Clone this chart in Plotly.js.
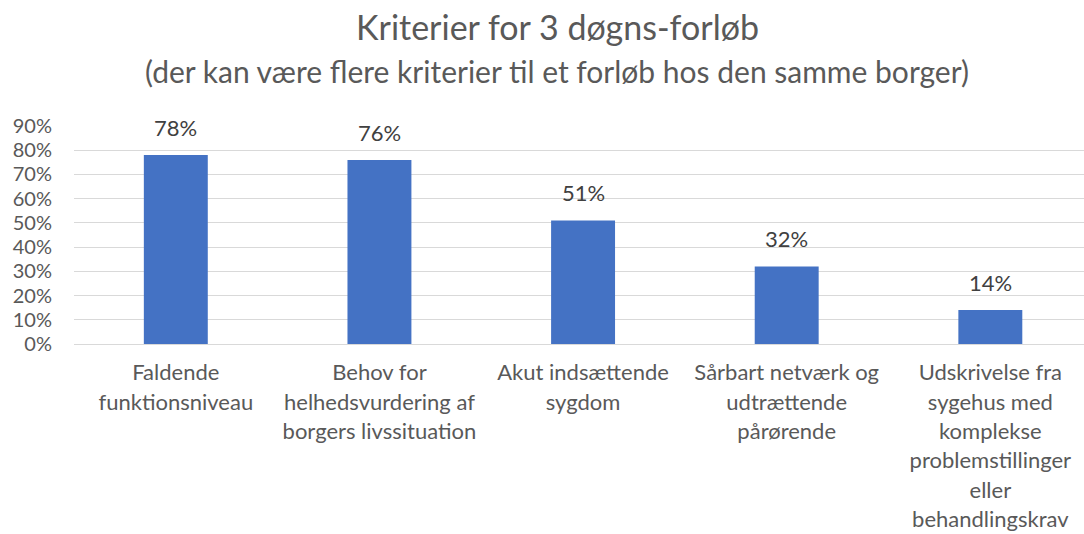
<!DOCTYPE html>
<html><head><meta charset="utf-8">
<script src="https://cdn.plot.ly/plotly-3.0.1.min.js"></script>
<style>body{margin:0;background:#fff}#c{width:1084px;height:534px}</style>
</head><body><div id="c"></div>
<script>
const categoryLines = [
  ["Faldende", "funktionsniveau"],
  ["Behov for", "helhedsvurdering af", "borgers livssituation"],
  ["Akut indsættende", "sygdom"],
  ["Sårbart netværk og", "udtrættende", "pårørende"],
  ["Udskrivelse fra", "sygehus med", "komplekse", "problemstillinger", "eller", "behandlingskrav"]
];
const values = [0.78, 0.76, 0.51, 0.32, 0.14];
const labels = ["78%", "76%", "51%", "32%", "14%"];
const tickVals = [0,0.1,0.2,0.3,0.4,0.5,0.6,0.7,0.8,0.9];
const tickText = ["0%","10%","20%","30%","40%","50%","60%","70%","80%","90%"];
const titleText = "Kriterier for 3 døgns-forløb";
const subtitleText = "(der kan være flere kriterier til et forløb hos den samme borger)";

const FONT = "Lato, 'Open Sans', sans-serif";
const categories = categoryLines.map(l => l.join(" "));
const catTickText = categoryLines.map(l => l.map(s => "<span style='font-size:22px'>" + s + "</span>").join("<br>"));

const annotations = categories.map((c, i) => ({
  x: c, y: values[i], xref: 'x', yref: 'y', text: labels[i], showarrow: false,
  yanchor: 'bottom', yshift: 12, font: {family: FONT, size: 22, color: '#404040'}
}));
annotations.push({
  text: subtitleText, xref: 'paper', yref: 'paper', x: 0.4787, y: 1.252, xanchor: 'center', yanchor: 'middle',
  showarrow: false, font: {family: FONT, size: 30, color: '#595959'}
});

Plotly.newPlot('c', [{
  type: 'bar', x: categories, y: values,
  marker: {color: '#4472C4'}, hoverinfo: 'none'
}], {
  width: 1084, height: 534,
  margin: {l: 74, r: 0, t: 126, b: 190, pad: 0},
  paper_bgcolor: '#fff', plot_bgcolor: '#fff',
  bargap: 0.686,
  showlegend: false,
  title: {text: titleText, font: {family: FONT, size: 34, color: '#595959'},
    x: 0.4787, xanchor: 'center', xref: 'paper', y: 0.9476, yanchor: 'middle'},
  annotations: annotations,
  xaxis: {type: 'category', range: [-0.5, 4.46], showgrid: false, showline: true, linecolor: '#d9d9d9', linewidth: 1,
    tickvals: categories, ticktext: catTickText, ticklabelstandoff: 8,
    ticks: '', tickfont: {family: FONT, size: 22.6, color: '#595959'}, fixedrange: true},
  yaxis: {range: [0, 0.9], tickvals: tickVals, ticktext: tickText, showgrid: true, gridcolor: '#d9d9d9',
    gridwidth: 1, zeroline: false, showline: false, ticks: '', ticklabelstandoff: 21,
    tickfont: {family: FONT, size: 20, color: '#595959'}, fixedrange: true}
}, {staticPlot: true});
</script></body></html>
